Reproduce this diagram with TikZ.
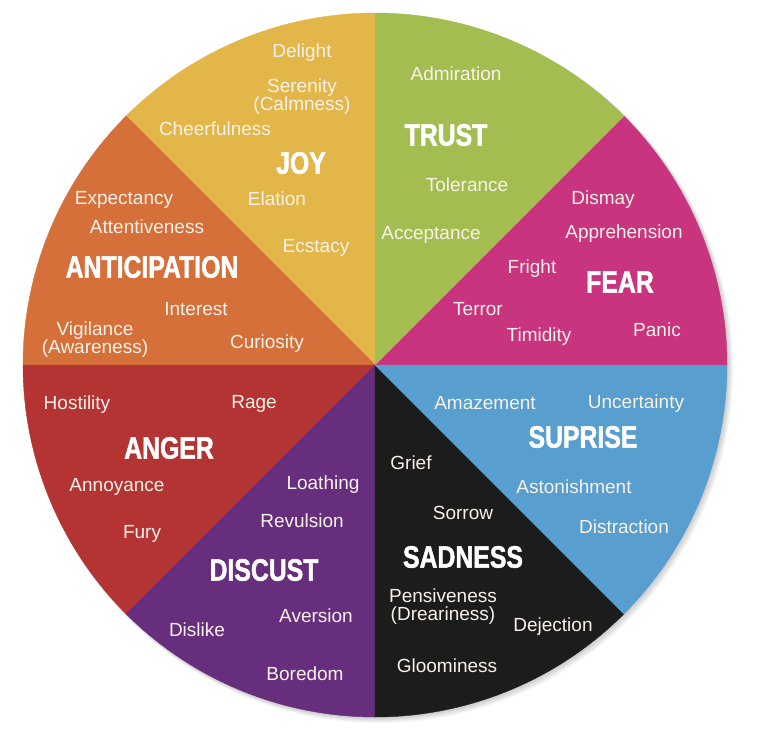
\documentclass[tikz,border=0pt]{standalone}
\usepackage{fontspec}
\setmainfont{Liberation Sans}
\newfontfamily\headfam[FakeStretch=0.8,FakeBold=1.5]{Liberation Sans Bold}
\usetikzlibrary{positioning}

\definecolor{fearcol}{RGB}{200,52,125}
\definecolor{trustcol}{RGB}{163,189,80}
\definecolor{joycol}{RGB}{226,182,72}
\definecolor{anticol}{RGB}{214,112,58}
\definecolor{angercol}{RGB}{180,52,52}
\definecolor{disgcol}{RGB}{104,46,126}
\definecolor{sadcol}{RGB}{28,28,28}
\definecolor{surpcol}{RGB}{88,158,206}
\definecolor{lblcol}{RGB}{248,242,232}

\newcommand{\lblfont}{\fontsize{19pt}{18pt}\selectfont}
\newcommand{\headfont}{\headfam\fontsize{31pt}{31pt}\selectfont}

\begin{document}
\begin{tikzpicture}[x=1pt, y=-1pt,
    lbl/.style={text=lblcol, font=\lblfont, align=center, inner sep=0pt, yshift=-1.5pt},
    emo/.style={text=white, font=\headfont, inner sep=0pt}]

\useasboundingbox (0,0) rectangle (768,736);

% soft shadow
\foreach \k in {1,...,6}
    \fill[black, opacity=0.035] (375+\k*0.7,365+\k*0.7) circle[radius=352+\k*0.3];

% the eight wedges
\begin{scope}[shift={(375,365)}, yscale=-1]
\foreach \col [count=\i from 0] in {fearcol,trustcol,joycol,anticol,angercol,disgcol,sadcol,surpcol}
    \filldraw[fill=\col, draw=\col, line width=0.4pt] (0,0) -- (\i*45:352)
        arc[start angle=\i*45, delta angle=45, radius=352] -- cycle;
\end{scope}

% joy
\node[lbl] (delight) at (302,51) {Delight};
\node[lbl] (serenity) at (302,95) {Serenity\\[-0.5pt](Calmness)};
\node[lbl] (cheer) at (215,127) {Cheerfulness};
\node[emo] (joy) at (301,163) {JOY};
\node[lbl] (elation) at (277,197) {Elation};
\node[lbl] (ecstacy) at (316,246) {Ecstacy};

% anticipation
\node[lbl] (expect) at (124,198) {Expectancy};
\node[lbl] (attent) at (147,225) {Attentiveness};
\node[emo] (antic) at (152,267) {ANTICIPATION};
\node[lbl] (interest) at (196,308) {Interest};
\node[lbl] (vigil) at (95,338) {Vigilance\\(Awareness)};
\node[lbl] (curio) at (267,342) {Curiosity};

% trust
\node[lbl] (admir) at (456,72) {Admiration};
\node[emo] (trust) at (446,135) {TRUST};
\node[lbl] (toler) at (467,183) {Tolerance};
\node[lbl] (accept) at (431,233) {Acceptance};

% fear
\node[lbl] (dismay) at (603,198) {Dismay};
\node[lbl] (appre) at (624,232) {Apprehension};
\node[lbl] (fright) at (532,267) {Fright};
\node[emo] (fear) at (620,282) {FEAR};
\node[lbl] (terror) at (478,308) {Terror};
\node[lbl] (timid) at (539,335) {Timidity};
\node[lbl] (panic) at (657,328) {Panic};

% anger
\node[lbl] (hostil) at (77,403) {Hostility};
\node[lbl] (rage) at (254,402) {Rage};
\node[emo] (anger) at (169,448) {ANGER};
\node[lbl] (annoy) at (117,485) {Annoyance};
\node[lbl] (fury) at (142,532) {Fury};

% disgust
\node[lbl] (loath) at (323,483) {Loathing};
\node[lbl] (revul) at (302,519) {Revulsion};
\node[emo] (disg) at (264,570) {DISCUST};
\node[lbl] (avers) at (316,614) {Aversion};
\node[lbl] (dislike) at (197,628) {Dislike};
\node[lbl] (boredom) at (305,672) {Boredom};

% surprise
\node[lbl] (amaze) at (485,402) {Amazement};
\node[lbl] (uncert) at (636,402) {Uncertainty};
\node[emo] (surp) at (583,437) {SUPRISE};
\node[lbl] (aston) at (574,485) {Astonishment};
\node[lbl] (distr) at (624,525) {Distraction};

% sadness
\node[lbl] (grief) at (411,461) {Grief};
\node[lbl] (sorrow) at (463,511) {Sorrow};
\node[emo] (sad) at (463,557) {SADNESS};
\node[lbl] (pensive) at (443,605) {Pensiveness\\(Dreariness)};
\node[lbl] (deject) at (553,625) {Dejection};
\node[lbl] (gloom) at (447,664) {Gloominess};

\end{tikzpicture}
\end{document}
